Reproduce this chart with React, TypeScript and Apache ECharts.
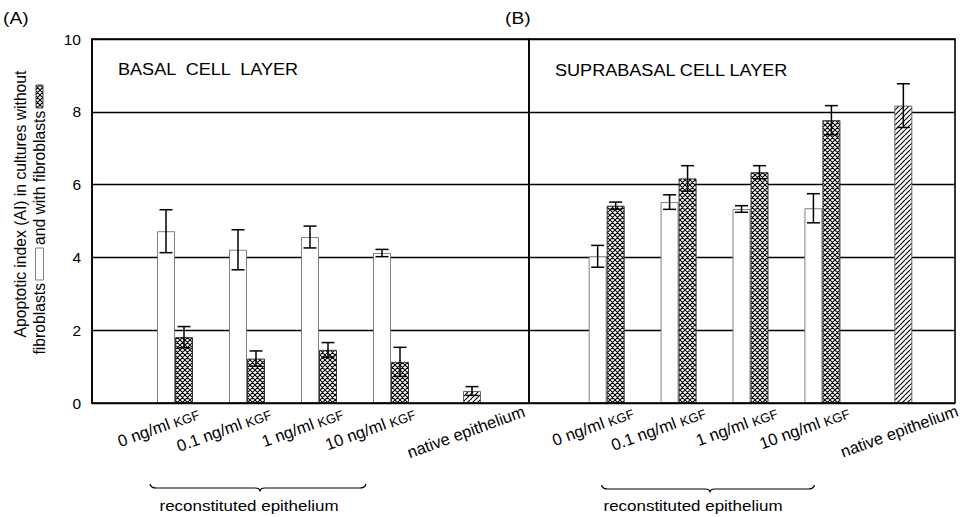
import React, { useEffect, useRef } from 'react';
import * as echarts from 'echarts';

// Categories shared by both panels
const categories = ['0 ng/ml KGF', '0.1 ng/ml KGF', '1 ng/ml KGF', '10 ng/ml KGF', 'native epithelium'];

// Y scale (apoptotic index)
const Y_MIN = 0;
const Y_MAX = 10;
const Y_STEP = 2;

// (A) basal cell layer, reconstituted epithelium at 4 KGF levels
const basalWithout = [4.72, 4.21, 4.56, 4.12];
const basalWithoutErr = [0.59, 0.55, 0.3, 0.1];
const basalWith = [1.81, 1.22, 1.46, 1.13];
const basalWithErr = [0.29, 0.21, 0.2, 0.4];
const basalNative = 0.33;
const basalNativeErr = 0.12;

// (B) suprabasal cell layer
const supraWithout = [4.03, 5.52, 5.33, 5.35];
const supraWithoutErr = [0.3, 0.2, 0.09, 0.4];
const supraWith = [5.42, 6.17, 6.34, 7.77];
const supraWithErr = [0.1, 0.35, 0.18, 0.4];
const supraNative = 8.17;
const supraNativeErr = 0.6;

const FONT = '"Liberation Sans", Arial, Helvetica, sans-serif';
const BAR_W = 18;
const CAP = 6.5;
const LABEL_ROTATE = 20;

// curly brace under the reconstituted-epithelium labels
const BRACE_W = 216;
const BRACE_TIP = 110;
const bracePath = `M0 0 Q1 4 6 4 L${BRACE_TIP - 5} 4 Q${BRACE_TIP} 4 ${BRACE_TIP} 7.5 Q${BRACE_TIP} 4 ${BRACE_TIP + 5} 4 L${BRACE_W - 6} 4 Q${BRACE_W - 1} 4 ${BRACE_W} 0`;
echarts.graphic.registerShape('brace', echarts.graphic.extendPath(bracePath, {}));

function makeHatch(kind: 'cross' | 'diag'): HTMLCanvasElement {
  const s = 5;
  const c = document.createElement('canvas');
  c.width = s;
  c.height = s;
  const g = c.getContext('2d')!;
  g.fillStyle = '#ffffff';
  g.fillRect(0, 0, s, s);
  g.strokeStyle = '#000000';
  g.lineWidth = kind === 'cross' ? 1.1 : 1.15;
  g.beginPath();
  for (const o of [-s, 0, s]) {
    g.moveTo(o, s);
    g.lineTo(o + s, 0);
  }
  if (kind === 'cross') {
    for (const o of [-s, 0, s]) {
      g.moveTo(o, 0);
      g.lineTo(o + s, s);
    }
  }
  g.stroke();
  return c;
}

function errItems(vals: number[], errs: number[], slot: number, startIndex = 0) {
  return vals.map((v, i) => [startIndex + i, v - errs[i], v + errs[i], slot]);
}

function labelFormatter(v: string) {
  return v.endsWith(' KGF') ? `{a|${v.slice(0, -4)} }{b|KGF}` : `{a|${v}}`;
}

const richLabel = {
  a: { fontSize: 16.5, fontFamily: FONT, color: '#000', verticalAlign: 'bottom' },
  b: { fontSize: 13, fontFamily: FONT, color: '#000', verticalAlign: 'bottom' },
};

export default function App() {
  const ref = useRef<HTMLDivElement>(null);

  useEffect(() => {
    if (!ref.current) return;
    const chart = echarts.init(ref.current, undefined, { renderer: 'svg' });

    const crossFill = { image: makeHatch('cross'), repeat: 'repeat', imageWidth: 5, imageHeight: 5 };
    const diagFill = { image: makeHatch('diag'), repeat: 'repeat', imageWidth: 5, imageHeight: 5 };

    const frameGrid = (left: number, width: number) => ({
      left, top: 39, width, height: 364,
      show: true, borderColor: '#000', borderWidth: 1.6, z: 3,
      outerBoundsMode: 'none',
    });
    const barGrid = (left: number, width: number) => ({
      left, top: 39, width, height: 364, outerBoundsMode: 'none',
    });

    const frameX = (gridIndex: number) => ({
      type: 'value', gridIndex, min: 0, max: 1, show: false,
    });
    const frameY = (gridIndex: number, labels: boolean) => ({
      type: 'value', gridIndex, min: Y_MIN, max: Y_MAX, interval: Y_STEP,
      axisLine: { show: labels, lineStyle: { color: '#000', width: 1.6 } },
      axisTick: { show: false },
      axisLabel: { show: labels, fontSize: 15.5, color: '#000', fontFamily: FONT, margin: 11 },
      splitLine: { show: true, lineStyle: { color: '#000', width: 1.4 } },
    });
    const barX = (gridIndex: number, shift: number, nativeShift: number) => ({
      type: 'category', gridIndex,
      data: categories.map((c, i) =>
        i === categories.length - 1 ? { value: c, textStyle: { padding: [22, -nativeShift, 0, 0] } } : c
      ),
      axisLine: { show: false },
      axisTick: { show: false },
      axisLabel: {
        interval: 0, rotate: LABEL_ROTATE, margin: 18, padding: [0, -shift, 0, 0],
        formatter: labelFormatter, rich: richLabel, color: '#000',
      },
    });
    const barY = (gridIndex: number) => ({
      type: 'value', gridIndex, min: Y_MIN, max: Y_MAX, show: false,
    });

    const whiteStyle = { color: '#ffffff', borderColor: '#808080', borderWidth: 1 };
    const crossStyle = { color: crossFill, borderColor: '#333333', borderWidth: 1 };
    const nativeStyle = { color: diagFill, borderColor: '#666666', borderWidth: 1 };

    const errorSeries = (axis: number, data: number[][]) => ({
      type: 'custom', xAxisIndex: axis, yAxisIndex: axis, z: 4,
      encode: { x: 0, y: [1, 2] },
      data,
      renderItem: (_params: any, api: any) => {
        const idx = api.value(0);
        const top = api.coord([idx, api.value(2)]);
        const bot = api.coord([idx, api.value(1)]);
        const x = top[0] + (api.value(3) * BAR_W) / 2;
        const style = { stroke: '#000', lineWidth: 1.5 };
        return {
          type: 'group',
          children: [
            { type: 'line', shape: { x1: x, y1: top[1], x2: x, y2: bot[1] }, style },
            { type: 'line', shape: { x1: x - CAP, y1: top[1], x2: x + CAP, y2: top[1] }, style },
            { type: 'line', shape: { x1: x - CAP, y1: bot[1], x2: x + CAP, y2: bot[1] }, style },
          ],
        };
      },
    });

    const panelSeries = (
      axis: number,
      without: number[], withoutErr: number[],
      withF: number[], withErr: number[],
      nativeVal: number, nativeErr: number
    ) => [
      {
        type: 'bar', name: 'without fibroblasts', xAxisIndex: axis, yAxisIndex: axis,
        barWidth: BAR_W, barGap: '0%', itemStyle: whiteStyle,
        data: [...without, '-'],
      },
      {
        type: 'bar', name: 'with fibroblasts', xAxisIndex: axis, yAxisIndex: axis,
        barWidth: BAR_W, barGap: '0%', itemStyle: crossStyle,
        data: [...withF, { value: nativeVal, itemStyle: nativeStyle }],
      },
      errorSeries(axis, [
        ...errItems(without, withoutErr, -1),
        ...errItems(withF, withErr, 1),
        ...errItems([nativeVal], [nativeErr], 1, without.length),
      ]),
    ];

    const txt = (extra: any) => ({ fill: '#000', fontFamily: FONT, ...extra });
    const braceStyle = { fill: 'none', stroke: '#000', lineWidth: 1.2 };

    chart.setOption({
      animation: false,
      backgroundColor: '#ffffff',
      textStyle: { fontFamily: FONT, color: '#000' },
      grid: [frameGrid(92, 437), frameGrid(529, 426), barGrid(139, 360), barGrid(570.7, 359.6)],
      xAxis: [frameX(0), frameX(1), barX(2, 25, 61), barX(3, 28, 63)],
      yAxis: [frameY(0, true), frameY(1, false), barY(2), barY(3)],
      series: [
        ...panelSeries(2, basalWithout, basalWithoutErr, basalWith, basalWithErr, basalNative, basalNativeErr),
        ...panelSeries(3, supraWithout, supraWithoutErr, supraWith, supraWithErr, supraNative, supraNativeErr),
      ],
      graphic: [
        { type: 'text', x: 3, y: 18, scaleX: 1.13, style: txt({ text: '(A)', fontSize: 17, verticalAlign: 'middle' }) },
        { type: 'text', x: 505, y: 18, scaleX: 1.13, style: txt({ text: '(B)', fontSize: 17, verticalAlign: 'middle' }) },
        { type: 'text', x: 118, y: 70, scaleX: 1.13, style: txt({ text: 'BASAL  CELL  LAYER', fontSize: 16, verticalAlign: 'middle' }) },
        { type: 'text', x: 555, y: 70.5, scaleX: 1.13, style: txt({ text: 'SUPRABASAL CELL LAYER', fontSize: 16, verticalAlign: 'middle' }) },
        // y-axis title with its inline key boxes
        {
          type: 'text', x: 20, y: 204, rotation: Math.PI / 2,
          style: txt({ text: 'Apoptotic index (AI) in cultures without', fontSize: 15.7, align: 'center', verticalAlign: 'middle' }),
        },
        {
          type: 'text', x: 39.5, y: 283, rotation: Math.PI / 2,
          style: txt({ text: 'fibroblasts', fontSize: 15.7, align: 'right', verticalAlign: 'middle' }),
        },
        { type: 'rect', shape: { x: 35.5, y: 248, width: 8, height: 32 }, style: { fill: '#fff', stroke: '#808080', lineWidth: 1 } },
        {
          type: 'text', x: 39.5, y: 245, rotation: Math.PI / 2,
          style: txt({ text: 'and with fibroblasts', fontSize: 15.7, align: 'left', verticalAlign: 'middle' }),
        },
        { type: 'rect', shape: { x: 36, y: 85, width: 7, height: 23 }, style: { fill: crossFill, stroke: '#444', lineWidth: 1 } },
        // braces and group captions
        { type: 'brace', x: 150, y: 484, style: braceStyle },
        { type: 'brace', x: 601.5, y: 485, scaleX: 213 / BRACE_W, style: braceStyle },
        { type: 'text', x: 249, y: 506, scaleX: 1.13, style: txt({ text: 'reconstituted epithelium', fontSize: 15, align: 'center', verticalAlign: 'middle' }) },
        { type: 'text', x: 693, y: 506, scaleX: 1.13, style: txt({ text: 'reconstituted epithelium', fontSize: 15, align: 'center', verticalAlign: 'middle' }) },
      ],
    });

    return () => chart.dispose();
  }, []);

  return (
    <div
      ref={ref}
      style={{ position: 'absolute', left: 0, top: 0, width: 973, height: 517, background: '#fff' }}
    />
  );
}
